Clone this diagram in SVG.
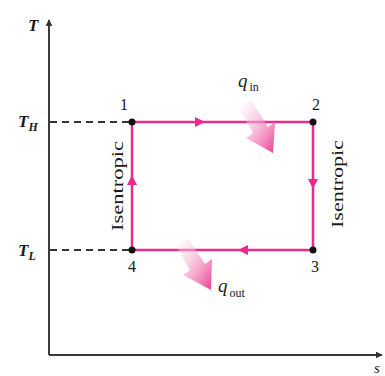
<svg xmlns="http://www.w3.org/2000/svg" width="385" height="376" viewBox="0 0 385 376">
<defs>
<style>
.ax{stroke:#3a3a3a;stroke-width:2;fill:none}
.dash{stroke:#333;stroke-width:2;stroke-dasharray:7,5;fill:none}
.cyc{stroke:#ec2a8c;stroke-width:2.5;fill:none}
.t{font-family:"Liberation Serif","Times New Roman",serif;fill:#1a1a1a}
.it{font-style:italic}
.pt{fill:#111}
</style>
<marker id="ah" viewBox="0 0 10 10" refX="9" refY="5" markerWidth="7" markerHeight="7" orient="auto" markerUnits="userSpaceOnUse">
<path d="M0,0 L10,5 L0,10 z" fill="#333"/>
</marker>
<marker id="mp" viewBox="0 0 10 10" refX="5" refY="5" markerWidth="11" markerHeight="10" orient="auto" markerUnits="userSpaceOnUse">
<path d="M0,0 L10,5 L0,10 z" fill="#ec2a8c"/>
</marker>
<linearGradient id="gq" x1="0" y1="0" x2="1" y2="1">
<stop offset="0" stop-color="#ffffff" stop-opacity="0.3"/>
<stop offset="1" stop-color="#ea3a90"/>
</linearGradient>
</defs>
<rect width="385" height="376" fill="#fff"/>
<g id="axes">
<line class="ax" x1="49" y1="355" x2="49" y2="20" marker-end="url(#ah)"/>
<line class="ax" x1="49" y1="355" x2="382" y2="355" marker-end="url(#ah)"/>
<text class="t it" x="28" y="31" font-size="17" font-weight="bold">T</text>
<text class="t it" x="374" y="373" font-size="15">s</text>
<text class="t it" x="18" y="127" font-size="17" font-weight="bold">T<tspan font-size="12" dy="4">H</tspan></text>
<text class="t it" x="18" y="256" font-size="17" font-weight="bold">T<tspan font-size="12" dy="4">L</tspan></text>
</g>
<g id="connectors">
<line class="dash" x1="50" y1="122" x2="130" y2="122"/>
<line class="dash" x1="50" y1="250" x2="130" y2="250"/>
<path class="cyc" d="M132,122 L200,122 L313,122" marker-mid="url(#mp)"/>
<path class="cyc" d="M313,122 L313,184 L313,250" marker-mid="url(#mp)"/>
<path class="cyc" d="M313,250 L243,250 L132,250" marker-mid="url(#mp)"/>
<path class="cyc" d="M132,250 L132,180 L132,122" marker-mid="url(#mp)"/>
</g>
<g id="node1"><circle class="pt" cx="132" cy="122" r="3.5"/><text class="t" x="120" y="110" font-size="16">1</text></g>
<g id="node2"><circle class="pt" cx="313" cy="122" r="3.5"/><text class="t" x="312" y="110" font-size="16">2</text></g>
<g id="node3"><circle class="pt" cx="313" cy="250" r="3.5"/><text class="t" x="311" y="272" font-size="16">3</text></g>
<g id="node4"><circle class="pt" cx="132" cy="250" r="3.5"/><text class="t" x="128" y="272" font-size="16">4</text></g>
<g id="labels">
<text class="t" font-size="17" text-anchor="middle" transform="translate(123,186) rotate(-90)" textLength="90" lengthAdjust="spacingAndGlyphs">Isentropic</text>
<text class="t" font-size="17" text-anchor="middle" transform="translate(343,184) rotate(-90)" textLength="88" lengthAdjust="spacingAndGlyphs">Isentropic</text>
</g>
<g id="qin">
<path d="M239,108 L251,100 L268,127 L275,122 L273,153 L246,138 L253,133 Z" fill="url(#gq)"/>
<text class="t it" x="238" y="87" font-size="19">q<tspan font-size="12" font-style="normal" dy="4" dx="2">in</tspan></text>
</g>
<g id="qout">
<path d="M176,246 L188,238 L205,264 L212,259 L211,290 L183,275 L190,270 Z" fill="url(#gq)"/>
<text class="t it" x="218" y="292" font-size="19">q<tspan font-size="12" font-style="normal" dy="5" dx="2">out</tspan></text>
</g>
</svg>
